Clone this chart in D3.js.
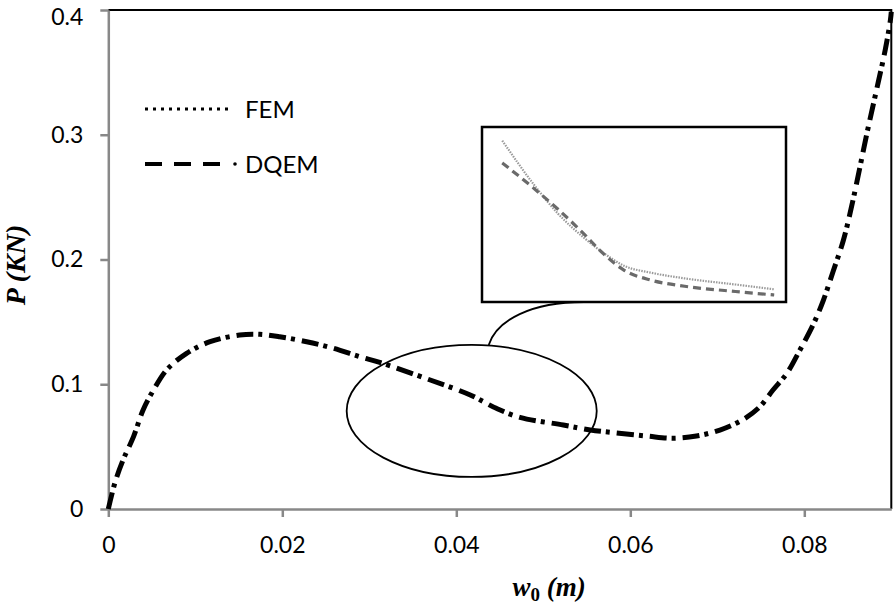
<!DOCTYPE html>
<html><head><meta charset="utf-8">
<script src="https://cdn.jsdelivr.net/npm/d3@7"></script>
<style>
html,body{margin:0;padding:0;background:#fff;}
svg{display:block;}
</style></head>
<body>
<svg id="chart" width="894" height="607"></svg>
<script>
// ---- data ----
const w0 = [0, 0.0008, 0.0017, 0.0029, 0.0040, 0.0052, 0.0067, 0.0090, 0.0117, 0.0151, 0.0174, 0.0197, 0.0228, 0.0259, 0.0289, 0.0312, 0.0370, 0.0416, 0.0446, 0.0473, 0.0523, 0.0554, 0.0581, 0.0619, 0.0649, 0.0676, 0.0703, 0.0730, 0.0749, 0.0764, 0.0780, 0.0795, 0.0810, 0.0822, 0.0833, 0.0845, 0.0856, 0.0872, 0.0883, 0.0893, 0.0899, 0.0900];
const femP = [0, 0.0219, 0.0393, 0.0580, 0.0794, 0.0954, 0.1114, 0.1248, 0.1341, 0.1395, 0.1400, 0.1381, 0.1341, 0.1288, 0.1221, 0.1175, 0.1034, 0.0914, 0.0807, 0.0735, 0.0673, 0.0633, 0.0612, 0.0585, 0.0567, 0.0585, 0.0633, 0.0719, 0.0820, 0.0954, 0.1088, 0.1275, 0.1475, 0.1675, 0.1902, 0.2156, 0.2477, 0.3012, 0.3359, 0.3679, 0.3920, 0.3986];
const dqemP = [0, 0.0219, 0.0393, 0.0580, 0.0794, 0.0954, 0.1114, 0.1248, 0.1341, 0.1395, 0.1400, 0.1381, 0.1341, 0.1288, 0.1221, 0.1175, 0.1034, 0.0914, 0.0807, 0.0735, 0.0673, 0.0633, 0.0612, 0.0585, 0.0567, 0.0585, 0.0633, 0.0719, 0.0820, 0.0954, 0.1088, 0.1275, 0.1475, 0.1675, 0.1902, 0.2156, 0.2477, 0.3012, 0.3359, 0.3679, 0.3920, 0.3986];

// zoomed inset (magnified region of the curve)
const insetW = [0.0412, 0.0430, 0.0445, 0.0460, 0.0472, 0.0484, 0.0500, 0.0520, 0.0550, 0.0573];
const insetFEM = [0.0969, 0.0872, 0.0802, 0.0748, 0.0712, 0.0683, 0.0667, 0.0654, 0.0640, 0.0629];
const insetDQEM = [0.0918, 0.0862, 0.0812, 0.0757, 0.0710, 0.0673, 0.0650, 0.0636, 0.0624, 0.0616];

const xTicks = [0, 0.02, 0.04, 0.06, 0.08];
const xTickLabels = ["0", "0.02", "0.04", "0.06", "0.08"];
const yTicks = [0, 0.1, 0.2, 0.3, 0.4];
const yTickLabels = ["0", "0.1", "0.2", "0.3", "0.4"];
const seriesNames = ["FEM", "DQEM"];

// ---- drawing ----
const svg = d3.select("#chart");
const x = d3.scaleLinear().domain([0, 0.09]).range([108.3, 891.3]);
const y = d3.scaleLinear().domain([0, 0.4]).range([509, 10]);
const sansFont = "Lato, 'Open Sans', sans-serif";
const serifFont = "'Liberation Serif', 'DejaVu Serif', serif";

// frame (top & right)
svg.append("path")
  .attr("d", `M${x(0)},${y(0.4)}H${x(0.09)}V${y(0)}`)
  .attr("fill", "none").attr("stroke", "#000").attr("stroke-width", 2);

// axes
const yAxis = svg.append("g").attr("transform", `translate(${x(0)},0)`)
  .call(d3.axisLeft(y).tickValues(yTicks).tickFormat((d, i) => yTickLabels[i]).tickSize(8).tickSizeOuter(0).tickPadding(17));
const xAxis = svg.append("g").attr("transform", `translate(0,${y(0)})`)
  .call(d3.axisBottom(x).tickValues(xTicks).tickFormat((d, i) => xTickLabels[i]).tickSize(8).tickSizeOuter(0).tickPadding(20));
[xAxis, yAxis].forEach(g => {
  g.select(".domain").attr("stroke", "#888").attr("stroke-width", 2.5);
  g.selectAll(".tick line").attr("stroke", "#888").attr("stroke-width", 2.5);
  g.selectAll(".tick text").attr("fill", "#000").style("font-family", sansFont).style("font-size", "23px");
});
// keep the top label inside the picture
yAxis.selectAll(".tick text").filter((d, i) => i === yTicks.length - 1).attr("dy", "0.62em");

// curves
const line = d3.line().x(d => x(d[0])).y(d => y(d[1])).curve(d3.curveCatmullRom.alpha(0.5));
const dqemPts = w0.map((w, i) => [w, dqemP[i]]);
const femPts = w0.map((w, i) => [w, femP[i]]);
svg.append("path").attr("d", line(dqemPts)).attr("fill", "none")
  .attr("stroke", "#000").attr("stroke-width", 5).attr("stroke-dasharray", "17,16");
svg.append("path").attr("d", line(femPts)).attr("fill", "none")
  .attr("stroke", "#000").attr("stroke-width", 5).attr("stroke-dasharray", "0,22,4,7");

// ellipse annotation
const eCx = 0.04177, eCy = 0.0786, eRx = 0.01437, eRy = 0.0529;
svg.append("ellipse")
  .attr("cx", x(eCx)).attr("cy", y(eCy))
  .attr("rx", x(eCx + eRx) - x(eCx)).attr("ry", y(eCy - eRy) - y(eCy))
  .attr("fill", "none").attr("stroke", "#000").attr("stroke-width", 1.8);

// inset box
const box = {x0: 482, y0: 127, x1: 786, y1: 302};
svg.append("path")
  .attr("d", `M${x(eCx) + 17},${y(eCy + eRy)} C${x(eCx) + 25},${y(eCy + eRy) - 25} ${x(eCx) + 60},${box.y1} ${x(eCx) + 112},${box.y1}`)
  .attr("fill", "none").attr("stroke", "#000").attr("stroke-width", 1.8);
svg.append("rect")
  .attr("x", box.x0).attr("y", box.y0).attr("width", box.x1 - box.x0).attr("height", box.y1 - box.y0)
  .attr("fill", "#fff").attr("stroke", "#000").attr("stroke-width", 2.5);
const ix = d3.scaleLinear().domain([0.040, 0.058]).range([box.x0, box.x1]);
const iy = d3.scaleLinear().domain([0.06, 0.10]).range([box.y1, box.y0]);
const iline = d3.line().x(d => ix(d[0])).y(d => iy(d[1])).curve(d3.curveMonotoneX);
svg.append("path").attr("d", iline(insetW.map((w, i) => [w, insetFEM[i]]))).attr("fill", "none")
  .attr("stroke", "#9a9a9a").attr("stroke-width", 2.2).attr("stroke-dasharray", "1.5,1.2");
svg.append("path").attr("d", iline(insetW.map((w, i) => [w, insetDQEM[i]]))).attr("fill", "none")
  .attr("stroke", "#6a6a6a").attr("stroke-width", 3.2).attr("stroke-dasharray", "8,5");

// legend
const leg = svg.append("g");
leg.append("line").attr("x1", 145).attr("x2", 233).attr("y1", 109).attr("y2", 109)
  .attr("stroke", "#000").attr("stroke-width", 3).attr("stroke-dasharray", "3,5");
leg.append("line").attr("x1", 145).attr("x2", 221).attr("y1", 164).attr("y2", 164)
  .attr("stroke", "#000").attr("stroke-width", 4).attr("stroke-dasharray", "17,12");
leg.append("circle").attr("cx", 235).attr("cy", 164).attr("r", 1.8).attr("fill", "#000");
leg.selectAll("text").data(seriesNames).join("text")
  .attr("x", 245).attr("y", (d, i) => 118 + i * 55)
  .style("font-family", sansFont).style("font-size", "24px").attr("fill", "#000")
  .text(d => d);

// axis titles
const xt = svg.append("text").attr("x", 549).attr("y", 596).attr("text-anchor", "middle")
  .style("font-family", serifFont).style("font-size", "27px").style("font-weight", "bold").style("font-style", "italic");
xt.append("tspan").text("w");
xt.append("tspan").attr("dy", 5).style("font-size", "19px").style("font-style", "normal").text("0");
xt.append("tspan").attr("dy", -5).text(" (m)");

svg.append("text").attr("transform", "translate(25,265) rotate(-90)").attr("text-anchor", "middle")
  .style("font-family", serifFont).style("font-size", "28px").style("font-weight", "bold").style("font-style", "italic")
  .text("P (KN)");
</script>
</body></html>
